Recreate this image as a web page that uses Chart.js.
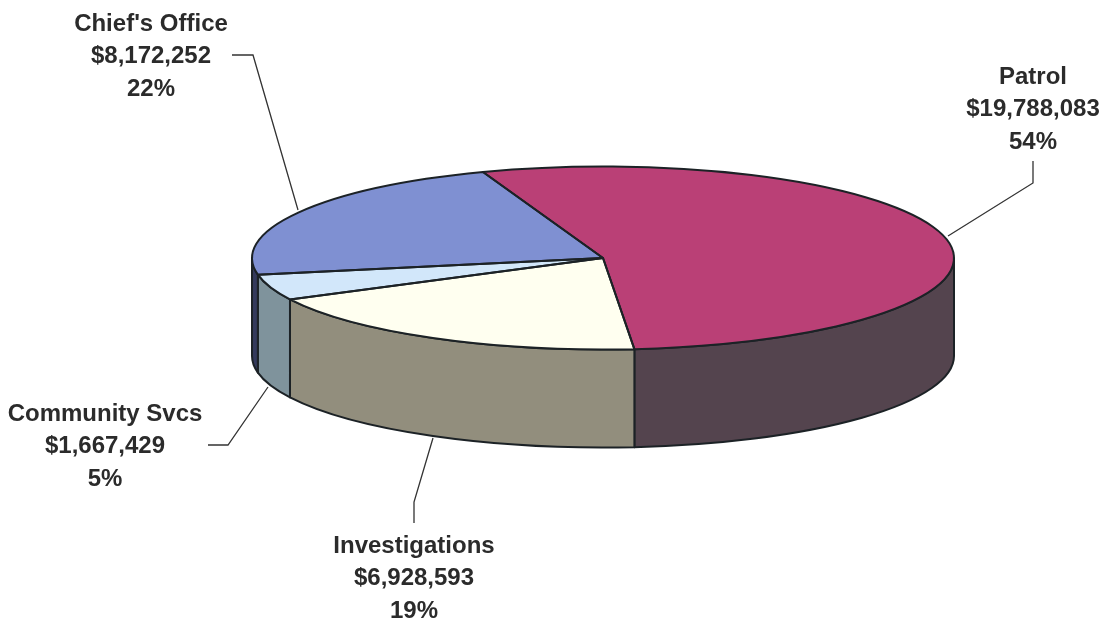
<!DOCTYPE html>
<html>
<head>
<meta charset="utf-8">
<style>html,body{margin:0;padding:0;background:#fff}canvas{display:block}</style>
<script src="https://cdn.jsdelivr.net/npm/chart.js@4/dist/chart.umd.min.js"></script>
</head>
<body>
<canvas id="c" width="1102" height="619"></canvas>
<script>
const categories = ['Patrol', 'Investigations', 'Community Svcs', "Chief's Office"];
const amounts = [19788083, 6928593, 1667429, 8172252];
const amountLabels = ['$19,788,083', '$6,928,593', '$1,667,429', '$8,172,252'];
const percentLabels = ['54%', '19%', '5%', '22%'];

const topColors = ['#ba4076', '#fffff0', '#d2e7fa', '#7f90d2'];
const wallColors = ['#54444e', '#928e7d', '#7f939c', '#343a5c'];
const outline = '#1c2226';

const RX = 351, RY = 91.5, DEPTH = 98;
const labelPos = [[1033, 77], [414, 546], [105, 414], [151, 24]];
const leaders = [
  [[1033, 161], [1033, 183], [948, 236]],
  [[414, 523], [414, 502], [433, 438]],
  [[208, 445], [228, 445], [268, 387]],
  [[232, 55], [253, 55], [298, 210]]
];

const pie3d = {
  id: 'pie3d',
  beforeDatasetsDraw(chart) {
    const ctx = chart.ctx, arcs = chart.getDatasetMeta(0).data;
    const cx = arcs[0].x, cy = arcs[0].y, R = arcs[0].outerRadius;
    ctx.save();
    ctx.strokeStyle = '#333';
    ctx.lineWidth = 1.3;
    leaders.forEach(pts => {
      ctx.beginPath();
      pts.forEach((p, i) => i ? ctx.lineTo(p[0], p[1]) : ctx.moveTo(p[0], p[1]));
      ctx.stroke();
    });
    ctx.strokeStyle = outline;
    ctx.lineWidth = 2;
    ctx.lineJoin = 'round';
    arcs.forEach((a, i) => {
      const s = Math.max(a.startAngle, 0), e = Math.min(a.endAngle, Math.PI);
      if (e <= s) return;
      ctx.beginPath();
      ctx.ellipse(cx, cy, RX, RY, 0, s, e);
      ctx.ellipse(cx, cy + DEPTH, RX, RY, 0, e, s, true);
      ctx.closePath();
      ctx.fillStyle = wallColors[i];
      ctx.fill();
      ctx.stroke();
    });
    ctx.restore();
    ctx.save();
    ctx.translate(cx, cy);
    ctx.scale(RX / R, RY / R);
    ctx.translate(-cx, -cy);
  },
  afterDatasetsDraw(chart) {
    const ctx = chart.ctx, arcs = chart.getDatasetMeta(0).data;
    ctx.restore();
    const cx = arcs[0].x, cy = arcs[0].y;
    ctx.save();
    ctx.strokeStyle = outline;
    ctx.lineWidth = 2;
    ctx.lineJoin = 'round';
    arcs.forEach(a => {
      ctx.beginPath();
      ctx.moveTo(cx, cy);
      ctx.ellipse(cx, cy, RX, RY, 0, a.startAngle, a.endAngle);
      ctx.closePath();
      ctx.stroke();
    });
    ctx.restore();
  },
  afterDraw(chart) {
    const ctx = chart.ctx;
    ctx.save();
    ctx.font = 'bold 24px "Liberation Sans", Arial, sans-serif';
    ctx.fillStyle = '#2b2b2b';
    ctx.textAlign = 'center';
    ctx.textBaseline = 'middle';
    categories.forEach((name, i) => {
      const [x, y] = labelPos[i];
      [name, amountLabels[i], percentLabels[i]].forEach((t, k) => ctx.fillText(t, x, y + k * 32.5));
    });
    ctx.restore();
  }
};

new Chart(document.getElementById('c'), {
  type: 'pie',
  data: {
    labels: categories,
    datasets: [{
      data: amounts,
      backgroundColor: topColors,
      borderWidth: 0,
      clip: false
    }]
  },
  options: {
    responsive: false,
    animation: false,
    rotation: -20,
    layout: { padding: { left: 104, right: 0, top: 0, bottom: 103 } },
    plugins: { legend: { display: false }, tooltip: { enabled: false } }
  },
  plugins: [pie3d]
});
</script>
</body>
</html>
